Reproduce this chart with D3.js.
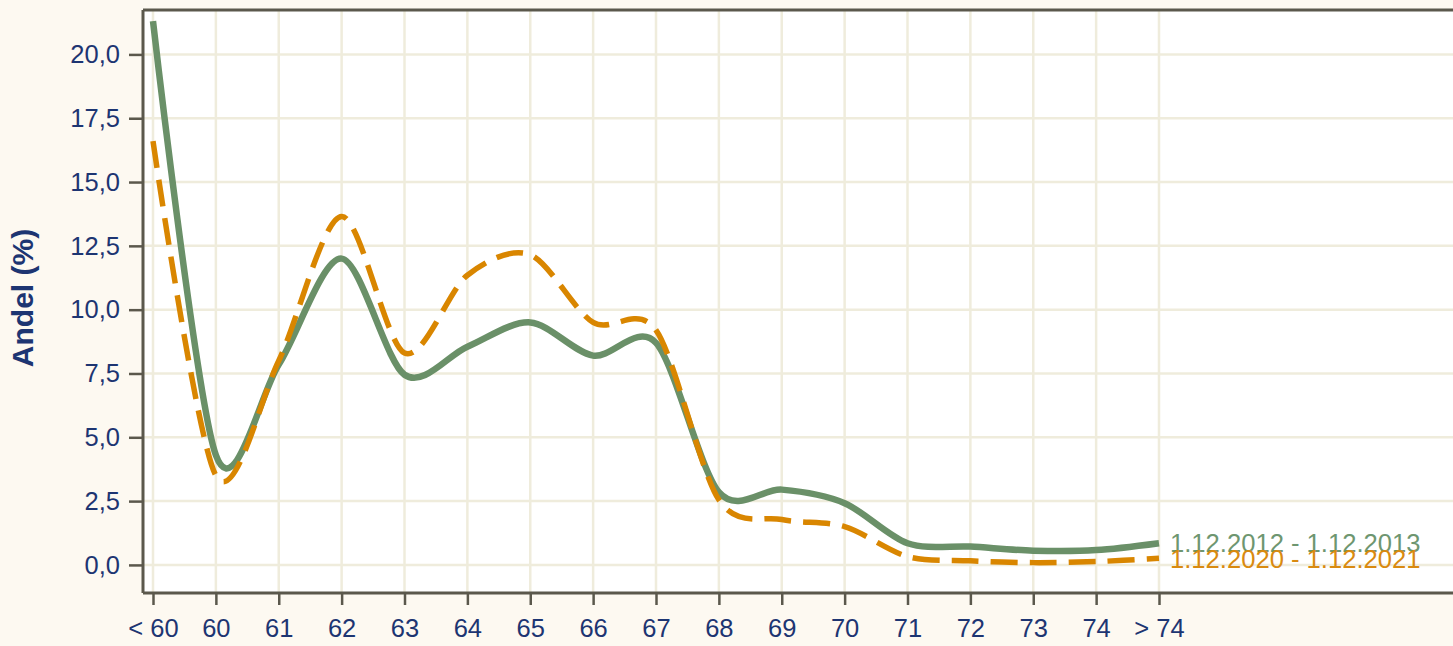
<!DOCTYPE html>
<html>
<head>
<meta charset="utf-8">
<script src="https://cdn.jsdelivr.net/npm/d3@7"></script>
<style>
  html, body { margin: 0; padding: 0; background: #fdf9f1; }
  svg { display: block; }
  text { font-family: "Liberation Sans", Arial, Helvetica, sans-serif; }
</style>
</head>
<body>
<svg id="chart" width="1453" height="646"></svg>
<script>
const categories = ["< 60","60","61","62","63","64","65","66","67","68","69","70","71","72","73","74","> 74"];
const series2013 = [21.3, 4.3, 7.85, 12.0, 7.45, 8.55, 9.5, 8.2, 8.7, 2.85, 2.95, 2.42, 0.85, 0.72, 0.56, 0.58, 0.85];
const series2021 = [16.6, 3.5, 8.0, 13.65, 8.3, 11.35, 12.15, 9.5, 9.2, 2.55, 1.78, 1.5, 0.33, 0.16, 0.09, 0.13, 0.26];
const seriesNames = ["1.12.2012 - 1.12.2013", "1.12.2020 - 1.12.2021"];
const yTicks = [0, 2.5, 5, 7.5, 10, 12.5, 15, 17.5, 20];

const plotLeft = 143, plotTop = 10, plotBottom = 593, plotRight = 1460;
const svg = d3.select("#chart");

const x = d3.scalePoint().domain(categories).range([153, 1159]);
const y = d3.scaleLinear().domain([-1.1, 21.74]).range([plotBottom, plotTop]);

const locale = d3.formatLocale({decimal: ",", thousands: " ", grouping: [3], currency: ["", " kr"]});
const fmt = locale.format(".1f");

const axisColor = "#5b584c";
const labelColor = "#1d3572";
const gridColor = "#efecdc";

// plot background
svg.append("rect").attr("x", plotLeft).attr("y", plotTop)
  .attr("width", plotRight - plotLeft).attr("height", plotBottom - plotTop)
  .attr("fill", "#ffffff");

// grid
const grid = svg.append("g");
grid.selectAll("line.h").data(yTicks).join("line")
  .attr("x1", plotLeft).attr("x2", plotRight)
  .attr("y1", d => y(d)).attr("y2", d => y(d))
  .attr("stroke", gridColor).attr("stroke-width", 2.5);
grid.selectAll("line.v").data(categories).join("line")
  .attr("x1", d => x(d)).attr("x2", d => x(d))
  .attr("y1", plotTop).attr("y2", plotBottom)
  .attr("stroke", gridColor).attr("stroke-width", 2.5);

// lines
const line = d3.line()
  .x((d, i) => x(categories[i]))
  .y(d => y(d))
  .curve(d3.curveCardinal.tension(0.1));

svg.append("path").datum(series2013)
  .attr("d", line).attr("fill", "none")
  .attr("stroke", "#6a9068").attr("stroke-width", 6.5)
  .attr("stroke-linejoin", "round");

svg.append("path").datum(series2021)
  .attr("d", line).attr("fill", "none")
  .attr("stroke", "#d98600").attr("stroke-width", 5.5)
  .attr("stroke-dasharray", "27,12");

// end labels
const last = categories.length - 1;
svg.append("text").attr("x", x(categories[last]) + 11).attr("y", y(series2013[last]))
  .attr("dy", "0.36em").attr("font-size", 25.6).attr("fill", "#6e9670")
  .text(seriesNames[0]);
svg.append("text").attr("x", x(categories[last]) + 11).attr("y", y(series2021[last]))
  .attr("dy", "0.36em").attr("font-size", 25.6).attr("fill", "#d98a10")
  .text(seriesNames[1]);

// top frame line
svg.append("line").attr("x1", plotLeft).attr("x2", plotRight).attr("y1", plotTop).attr("y2", plotTop)
  .attr("stroke", axisColor).attr("stroke-width", 3);

// y axis
const yAxis = d3.axisLeft(y).tickValues(yTicks).tickFormat(fmt).tickSize(14).tickPadding(9);
const gy = svg.append("g").attr("transform", `translate(${plotLeft},0)`).call(yAxis);
gy.select(".domain").attr("stroke", axisColor).attr("stroke-width", 3)
  .attr("d", `M0,${plotTop}V${plotBottom}`);
gy.selectAll(".tick line").attr("stroke", axisColor).attr("stroke-width", 2.5);
gy.selectAll(".tick text").attr("fill", labelColor).attr("font-size", 25.5)
  .attr("font-family", "'Liberation Sans', Arial, sans-serif");

// x axis
const xAxis = d3.axisBottom(x).tickSize(12).tickPadding(14);
const gx = svg.append("g").attr("transform", `translate(0,${plotBottom})`).call(xAxis);
gx.select(".domain").attr("stroke", axisColor).attr("stroke-width", 3)
  .attr("d", `M${plotLeft},0H${plotRight}`);
gx.selectAll(".tick line").attr("stroke", axisColor).attr("stroke-width", 2.5);
gx.selectAll(".tick text").attr("fill", labelColor).attr("font-size", 25.5)
  .attr("font-family", "'Liberation Sans', Arial, sans-serif");

// y axis title
svg.append("text")
  .attr("transform", `translate(33,298) rotate(-90)`)
  .attr("text-anchor", "middle")
  .attr("font-size", 30).attr("font-weight", "bold").attr("fill", labelColor)
  .text("Andel (%)");
</script>
</body>
</html>
